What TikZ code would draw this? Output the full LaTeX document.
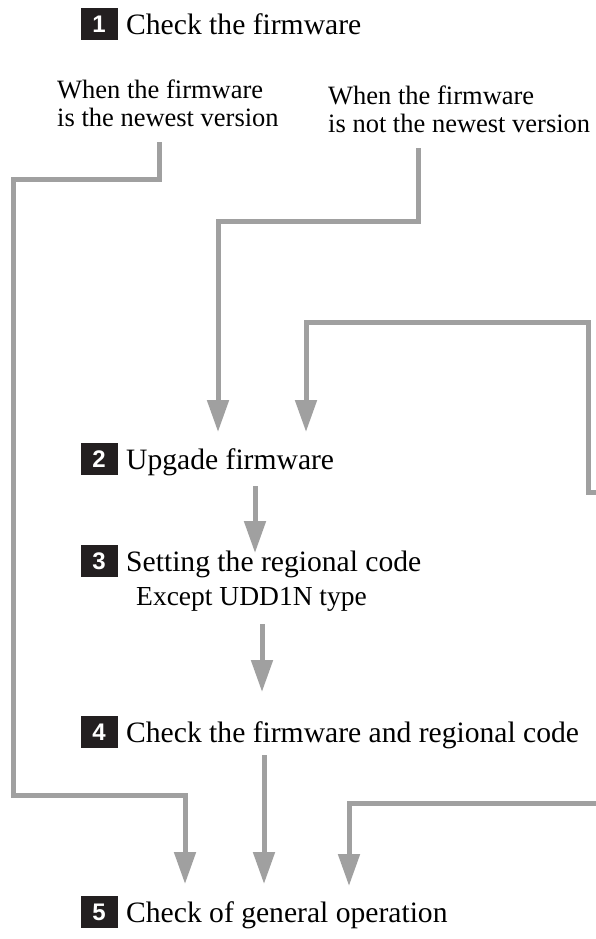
\documentclass[tikz,border=0pt]{standalone}
\usepackage{fontspec}
\setmainfont{Liberation Serif}
\newfontfamily\numfont{Liberation Sans}
\usetikzlibrary{arrows.meta}
\definecolor{linegray}{RGB}{160,160,160}
\definecolor{boxblack}{RGB}{35,31,32}
\begin{document}
\begin{tikzpicture}[x=1pt,y=-1pt,
  flow/.style={draw=linegray, line width=5pt},
  arr/.style={flow, -{Triangle[length=32pt,width=21pt]}},
  numbox/.style={fill=boxblack, text=white, font=\numfont\bfseries\fontsize{24}{24}\selectfont,
    minimum width=37pt, minimum height=32pt, inner sep=0pt},
  maintext/.style={font=\fontsize{29.6}{29.6}\selectfont, anchor=base west, inner sep=0pt},
  subtext/.style={font=\fontsize{26.5}{28}\selectfont, align=left, anchor=north west, inner sep=0pt}
]
\useasboundingbox (0,0) rectangle (595,939);
\fill[white] (0,0) rectangle (595,939);

% step 1
\node[numbox] (n1) at (99,24) {1};
\node[maintext] (t1) at (126,35) {Check the firmware};
\node[subtext] (l1) at (57,80) {When the firmware\\is the newest version};
\node[subtext] (l2) at (328,86) {When the firmware\\is not the newest version};

% step 2
\node[numbox] (n2) at (99,459) {2};
\node[maintext] (t2) at (126,469) {Upgade firmware};

% step 3
\node[numbox] (n3) at (99,561) {3};
\node[maintext] (t3) at (126,571) {Setting the regional code};
\node[font=\fontsize{27.5}{27.5}\selectfont, anchor=base west, inner sep=0pt] (e3) at (136,605) {Except UDD1N type};

% step 4
\node[numbox] (n4) at (99,732) {4};
\node[maintext] (t4) at (126,742) {Check the firmware and regional code};

% step 5
\node[numbox] (n5) at (99,912) {5};
\node[maintext] (t5) at (126,922) {Check of general operation};

% coordinates
\coordinate (a0) at (159,142);
\coordinate (a1) at (159,179);
\coordinate (a2) at (13,179);
\coordinate (a3) at (13,795);
\coordinate (a4) at (185,795);
\coordinate (a5) at (185,884);

\coordinate (b0) at (418,148);
\coordinate (b1) at (418,221);
\coordinate (b2) at (218,221);
\coordinate (b3) at (218,432);

\coordinate (c0) at (597,492);
\coordinate (c1) at (588,492);
\coordinate (c2) at (588,322);
\coordinate (c3) at (306,322);
\coordinate (c4) at (306,432);

\coordinate (d0) at (597,803);
\coordinate (d1) at (349,803);
\coordinate (d2) at (349,886);

\coordinate (e0) at (255,486);
\coordinate (e1) at (255,553);
\coordinate (f0) at (262,624);
\coordinate (f1) at (262,692);
\coordinate (g0) at (264,755);
\coordinate (g1) at (264,884);

\draw[arr] (a0) -- (a1) -- (a2) -- (a3) -- (a4) -- (a5);
\draw[arr] (b0) -- (b1) -- (b2) -- (b3);
\draw[arr] (c0) -- (c1) -- (c2) -- (c3) -- (c4);
\draw[arr] (d0) -- (d1) -- (d2);
\draw[arr] (e0) -- (e1);
\draw[arr] (f0) -- (f1);
\draw[arr] (g0) -- (g1);
\end{tikzpicture}
\end{document}
